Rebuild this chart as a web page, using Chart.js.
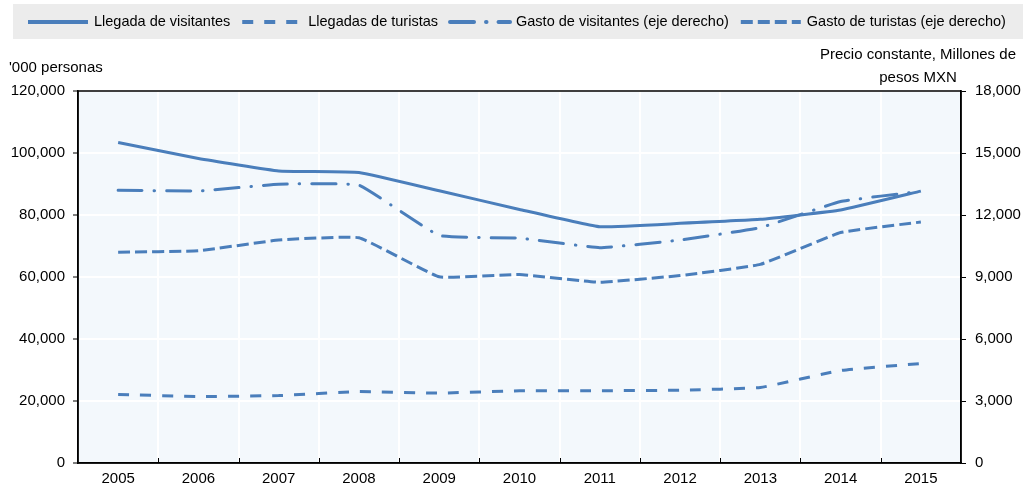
<!DOCTYPE html>
<html lang="es">
<head>
<meta charset="utf-8">
<title>Llegadas y gasto de visitantes</title>
<script src="https://cdn.jsdelivr.net/npm/chart.js@4/dist/chart.umd.min.js"></script>
<style>
  html, body { margin: 0; padding: 0; background: #fff; }
  #wrap { width: 1027px; height: 486px; position: relative; }
</style>
</head>
<body>
<div id="wrap"><canvas id="chart"></canvas></div>
<script>
// Years on the x axis
const years = ['2005', '2006', '2007', '2008', '2009', '2010', '2011', '2012', '2013', '2014', '2015'];

// Left axis: '000 personas
const llegadaVisitantes = [103400, 98200, 94200, 93700, 87800, 81800, 76200, 77300, 78600, 81600, 87700];
const llegadasTuristas = [22100, 21450, 21750, 23050, 22550, 23300, 23300, 23500, 24350, 29850, 32100];

// Right axis: precio constante, millones de pesos MXN
const gastoVisitantes = [13200, 13160, 13490, 13440, 11010, 10880, 10420, 10790, 11390, 12650, 13150];
const gastoTuristas = [10200, 10270, 10790, 10900, 9010, 9120, 8750, 9070, 9610, 11150, 11660];

const leftTicks = [0, 20000, 40000, 60000, 80000, 100000, 120000];
const rightTicks = [0, 3000, 6000, 9000, 12000, 15000, 18000];

const blue = '#4a7ebb';
const font = 'Liberation Sans, Arial, sans-serif';

// Plot background, legend band, axis titles, box border
const decor = {
    id: 'decor',
    beforeDraw(chart) {
        const { ctx, chartArea: a } = chart;
        ctx.save();
        ctx.fillStyle = '#ececec';
        ctx.fillRect(13, 4, 1010, 35);
        ctx.fillStyle = '#f3f8fc';
        ctx.fillRect(a.left, a.top, a.right - a.left, a.bottom - a.top);
        ctx.restore();
    },
    afterDraw(chart) {
        const { ctx, chartArea: a } = chart;
        ctx.save();
        // box border
        ctx.strokeStyle = '#000';
        ctx.lineWidth = 1.5;
        ctx.strokeRect(a.left, a.top, a.right - a.left, a.bottom - a.top);

        // inward tick marks on the category axis
        const x = chart.scales.x;
        const half = (x.getPixelForValue(1) - x.getPixelForValue(0)) / 2;
        ctx.lineWidth = 1;
        ctx.beginPath();
        for (let i = 0; i < years.length - 1; i++) {
            const px = Math.round(x.getPixelForValue(i) + half) + 0.5;
            ctx.moveTo(px, a.bottom);
            ctx.lineTo(px, a.bottom - 5);
        }
        ctx.stroke();

        // axis titles
        ctx.fillStyle = '#000';
        ctx.font = '15px ' + font;
        ctx.textBaseline = 'middle';
        ctx.textAlign = 'left';
        ctx.fillText("'000 personas", 9, 68);
        ctx.textAlign = 'center';
        ctx.fillText('Precio constante, Millones de', 918, 55);
        ctx.fillText('pesos MXN', 918, 78);

        // legend
        ctx.font = '14.5px ' + font;
        let lx = 28;
        chart.data.datasets.forEach(ds => {
            ctx.strokeStyle = ds.borderColor;
            ctx.lineWidth = 4;
            ctx.lineCap = ds.borderCapStyle || 'butt';
            ctx.setLineDash(ds.borderDash || []);
            ctx.beginPath();
            ctx.moveTo(lx, 22);
            ctx.lineTo(lx + 60, 22);
            ctx.stroke();
            ctx.setLineDash([]);
            ctx.textAlign = 'left';
            ctx.fillStyle = '#000';
            ctx.fillText(ds.label, lx + 66, 22);
            lx += 66 + ctx.measureText(ds.label).width + 12;
        });
        ctx.restore();
    }
};

const tickFont = { family: font, size: 15 };

new Chart(document.getElementById('chart').getContext('2d'), {
    type: 'line',
    data: {
        labels: years,
        datasets: [
            {
                label: 'Llegada de visitantes',
                data: llegadaVisitantes,
                yAxisID: 'y',
                borderColor: blue,
                borderWidth: 3,
                pointRadius: 0,
                tension: 0.1
            },
            {
                label: 'Llegadas de turistas',
                data: llegadasTuristas,
                yAxisID: 'y',
                borderColor: blue,
                borderWidth: 3,
                borderDash: [11, 11],
                pointRadius: 0,
                tension: 0.1
            },
            {
                label: 'Gasto de visitantes (eje derecho)',
                data: gastoVisitantes,
                yAxisID: 'y1',
                borderColor: blue,
                borderWidth: 3,
                borderDash: [24, 12, 0.5, 12],
                borderCapStyle: 'round',
                pointRadius: 0,
                tension: 0.1
            },
            {
                label: 'Gasto de turistas (eje derecho)',
                data: gastoTuristas,
                yAxisID: 'y1',
                borderColor: blue,
                borderWidth: 3,
                borderDash: [12, 5],
                pointRadius: 0,
                tension: 0.1
            }
        ]
    },
    options: {
        responsive: true,
        maintainAspectRatio: false,
        animation: false,
        layout: { padding: { top: 91, left: 0, right: 0, bottom: 0 } },
        plugins: {
            legend: { display: false },
            tooltip: { enabled: false }
        },
        scales: {
            x: {
                offset: true,
                grid: { offset: true, color: '#ffffff', lineWidth: 2, drawTicks: false },
                border: { display: true, color: '#000', width: 1.5 },
                ticks: { color: '#000', font: tickFont, padding: 7, maxRotation: 0 },
                afterFit(scale) { scale.height = 23; }
            },
            y: {
                position: 'left',
                min: 0,
                max: 120000,
                afterBuildTicks(scale) { scale.ticks = leftTicks.map(v => ({ value: v })); },
                grid: { color: '#ffffff', lineWidth: 2, tickColor: '#000', tickLength: 5, tickWidth: 1 },
                border: { display: true, color: '#000', width: 1.5 },
                ticks: {
                    color: '#000',
                    font: tickFont,
                    padding: 8,
                    callback: v => v.toLocaleString('en-US')
                },
                afterFit(scale) { scale.width = 78; }
            },
            y1: {
                position: 'right',
                min: 0,
                max: 18000,
                afterBuildTicks(scale) { scale.ticks = rightTicks.map(v => ({ value: v })); },
                grid: { drawOnChartArea: false, tickColor: '#000', tickLength: 5, tickWidth: 1 },
                border: { display: true, color: '#000', width: 1.5 },
                ticks: {
                    color: '#000',
                    font: tickFont,
                    padding: 9,
                    callback: v => v.toLocaleString('en-US')
                },
                afterFit(scale) { scale.width = 66; }
            }
        }
    },
    plugins: [decor]
});
</script>
</body>
</html>
